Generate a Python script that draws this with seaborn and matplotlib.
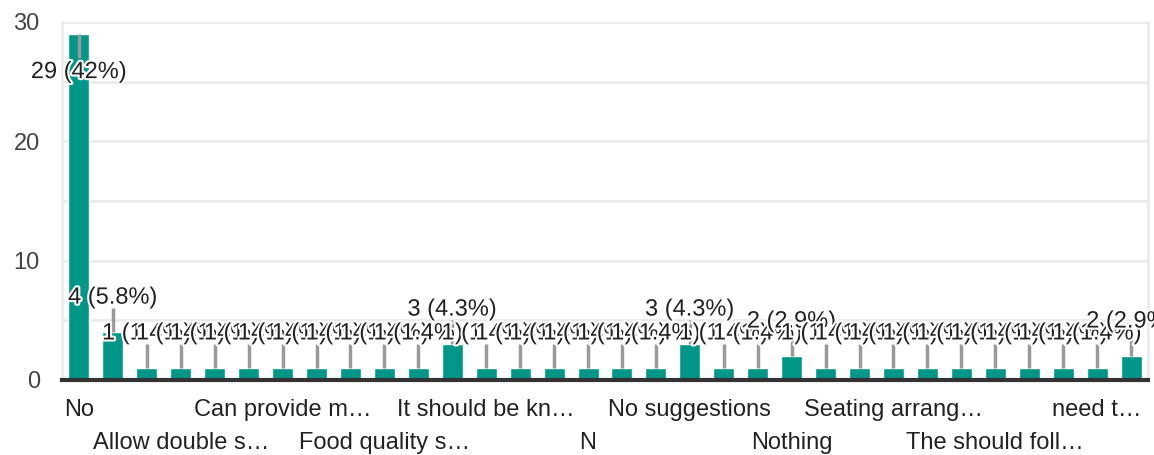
import matplotlib
matplotlib.use("Agg")
import matplotlib.pyplot as plt
import matplotlib.patheffects as pe
import seaborn as sns

# responses, in the order the form shows them
categories = ["No", "All good", "All is well", "Allow double s…", "Better food",
              "Better timing", "Can provide m…", "Cleanliness", "Extend timings",
              "Food quality s…", "Good", "Improve food quality", "It should be kn…",
              "Keep it up", "More variety", "N", "Nil", "No comments",
              "No suggestions", "No suggestion", "None", "Nothing", "Nothing much",
              "Provide more seats", "Seating arrang…", "Serve hot food",
              "Staff behaviour", "The should foll…", "Timings should…",
              "Water facility", "need t…", "nothing"]
counts = [29, 4, 1, 1, 1, 1, 1, 1, 1, 1, 1, 3, 1, 1, 1, 1, 1, 1,
          3, 1, 1, 2, 1, 1, 1, 1, 1, 1, 1, 1, 1, 2]
yticks = [0, 10, 20, 30]

total = sum(counts)
bar_color = "#009688"
fs = 17

sns.set_style("white")
plt.rcParams["font.family"] = ["Liberation Sans", "DejaVu Sans"]

fig = plt.figure(figsize=(11.54, 4.55), dpi=100)
ax = fig.add_axes([62 / 1154, 1 - 380 / 455, (1148 - 62) / 1154, (380 - 22) / 455])

sns.barplot(x=categories, y=counts, color=bar_color, saturation=1,
            width=0.62, ax=ax, zorder=2)

ax.set_xlim(-0.5, len(categories) - 0.5)
ax.set_ylim(0, 30)

# grid
for g in [5, 10, 15, 20, 25, 30]:
    ax.axhline(g, color="#ebebeb", lw=2, zorder=0)

ax.set_yticks(yticks)
ax.set_yticklabels([str(t) for t in yticks], color="#444444", fontsize=fs)

# only every third response gets a label, staggered on two rows
xlabels = []
for i, c in enumerate(categories):
    if i % 3 == 0:
        xlabels.append(c if (i // 3) % 2 == 0 else "\n" + c)
    else:
        xlabels.append("")
ax.set_xticks(range(len(categories)))
ax.set_xticklabels(xlabels, color="#222222", fontsize=fs)
for lab in ax.get_xticklabels():
    lab.set_linespacing(1.6)
ax.tick_params(axis="x", length=0, pad=14)
ax.tick_params(axis="y", length=0, pad=16)
ax.set_xlabel("")
ax.set_ylabel("")

ax.spines["top"].set_visible(False)
for side in ["left", "right"]:
    ax.spines[side].set_color("#ebebeb")
    ax.spines[side].set_linewidth(2)
ax.spines["bottom"].set_color("#333333")
ax.spines["bottom"].set_linewidth(3)
ax.spines["bottom"].set_zorder(5)

# annotations with stems
halo = [pe.withStroke(linewidth=3, foreground="white")]
for i, v in enumerate(counts):
    pct = 100 * v / total
    txt = f"{v} ({pct:.0f}%)" if pct >= 10 else f"{v} ({pct:.1f}%)"
    if v > 20:
        ax.vlines(i, v - 2, v, color="#999999", lw=2.5, zorder=3)
        ty = v - 3.2
    else:
        ax.vlines(i, v, v + 2, color="#999999", lw=2.5, zorder=3)
        ty = v + 2.9
    ax.text(i, ty, txt, ha="center", va="center", fontsize=fs,
            color="#222222", path_effects=halo, zorder=4, clip_on=False)

fig.savefig("out.png", dpi=100)
